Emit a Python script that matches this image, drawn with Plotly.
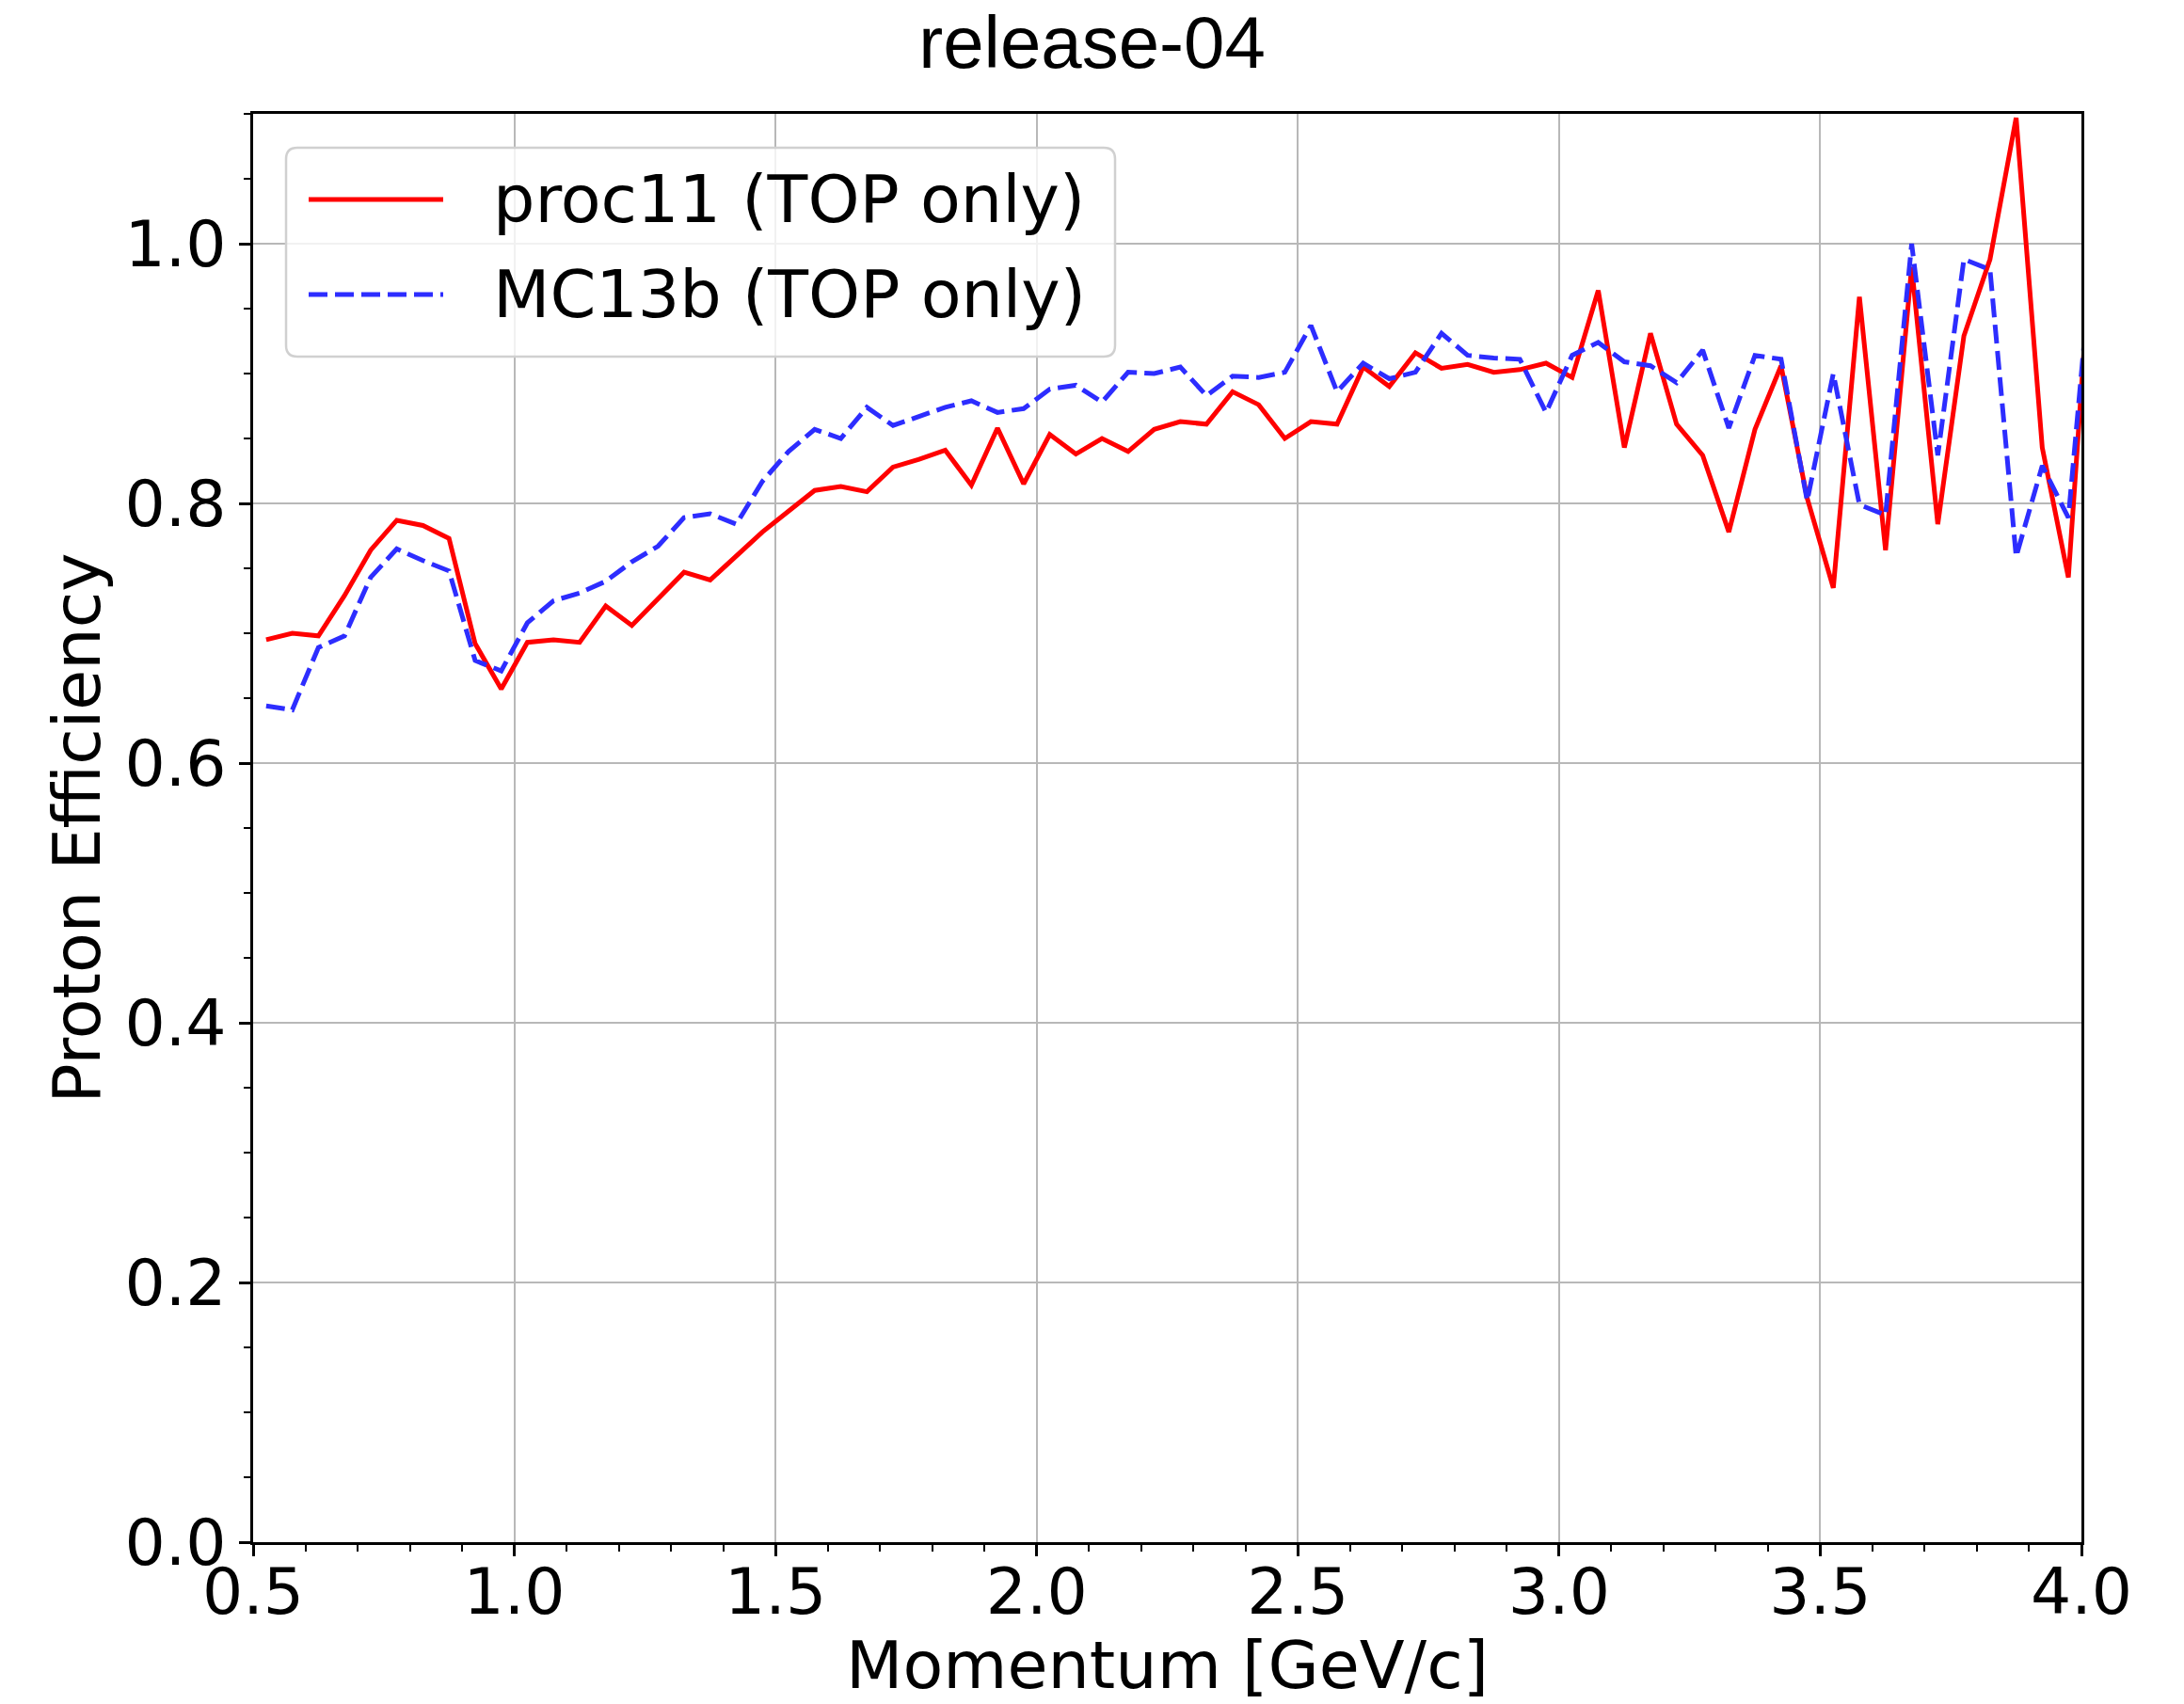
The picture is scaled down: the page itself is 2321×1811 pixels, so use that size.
import plotly.graph_objects as go

# ---------------- data ----------------
momentum = [0.525, 0.575, 0.625, 0.675, 0.725, 0.775, 0.825, 0.875, 0.925, 0.975,
            1.025, 1.075, 1.125, 1.175, 1.225, 1.275, 1.325, 1.375, 1.425, 1.475,
            1.525, 1.575, 1.625, 1.675, 1.725, 1.775, 1.825, 1.875, 1.925, 1.975,
            2.025, 2.075, 2.125, 2.175, 2.225, 2.275, 2.325, 2.375, 2.425, 2.475,
            2.525, 2.575, 2.625, 2.675, 2.725, 2.775, 2.825, 2.875, 2.925, 2.975,
            3.025, 3.075, 3.125, 3.175, 3.225, 3.275, 3.325, 3.375, 3.425, 3.475,
            3.525, 3.575, 3.625, 3.675, 3.725, 3.775, 3.825, 3.875, 3.925, 3.975,
            4.025]

proc11 = [0.695, 0.700, 0.698, 0.729, 0.764, 0.787, 0.783, 0.773, 0.692, 0.657,
          0.693, 0.695, 0.693, 0.721, 0.706, 0.726, 0.747, 0.741, 0.760, 0.778,
          0.794, 0.810, 0.813, 0.809, 0.828, 0.834, 0.841, 0.814, 0.858, 0.815,
          0.853, 0.838, 0.850, 0.840, 0.857, 0.863, 0.861, 0.886, 0.876, 0.850,
          0.863, 0.861, 0.905, 0.890, 0.916, 0.904, 0.907, 0.901, 0.903, 0.908,
          0.897, 0.964, 0.843, 0.931, 0.861, 0.837, 0.778, 0.857, 0.906, 0.804,
          0.735, 0.959, 0.764, 0.982, 0.784, 0.929, 0.988, 1.097, 0.843, 0.743,
          1.035]

mc13b = [0.644, 0.641, 0.689, 0.698, 0.743, 0.765, 0.756, 0.748, 0.679, 0.671,
         0.708, 0.725, 0.731, 0.740, 0.755, 0.767, 0.789, 0.792, 0.784, 0.817,
         0.840, 0.857, 0.850, 0.874, 0.860, 0.867, 0.874, 0.879, 0.870, 0.873,
         0.888, 0.891, 0.878, 0.901, 0.900, 0.905, 0.883, 0.898, 0.897, 0.901,
         0.937, 0.886, 0.908, 0.896, 0.901, 0.931, 0.914, 0.912, 0.911, 0.870,
         0.914, 0.924, 0.909, 0.906, 0.893, 0.918, 0.858, 0.914, 0.911, 0.802,
         0.900, 0.799, 0.791, 1.000, 0.837, 0.988, 0.980, 0.759, 0.829, 0.789,
         1.012]

series_names = ["proc11 (TOP only)", "MC13b (TOP only)"]
series_colors = ["rgb(255,0,0)", "rgb(45,45,255)"]
title_text = "release-04"
x_label = "Momentum [GeV/c]"
y_label = "Proton Efficiency"

# ---------------- figure ----------------
W, H = 2321, 1811
L, R, T, B = 269, 109, 121, 172
PW, PH = W - L - R, H - T - B
DASH = "20px,8px"
LW = 5

fig = go.Figure()
fig.add_trace(go.Scatter(x=momentum, y=proc11, mode="lines", name=series_names[0],
                         line=dict(color=series_colors[0], width=LW), showlegend=False))
fig.add_trace(go.Scatter(x=momentum, y=mc13b, mode="lines", name=series_names[1],
                         line=dict(color=series_colors[1], width=LW, dash=DASH),
                         showlegend=False))

tickfont = dict(family="DejaVu Sans", size=68, color="black")
common_axis = dict(showline=True, linecolor="black", linewidth=2.5, mirror=True,
                   ticks="outside", ticklen=12, tickwidth=2.5, tickcolor="black",
                   showgrid=True, gridcolor="#b8b8b8", gridwidth=2.2,
                   zeroline=False, tickfont=tickfont, tickformat=".1f")

fig.update_xaxes(range=[0.5, 4.0], dtick=0.5, tick0=0.5, ticklabelstandoff=-20,
                 minor=dict(dtick=0.1, ticks="outside", ticklen=7, tickwidth=2, tickcolor="black",
                            showgrid=False),
                 title=dict(text=x_label, font=dict(family="DejaVu Sans", size=70, color="black"),
                            standoff=40),
                 **common_axis)
fig.update_yaxes(range=[0, 1.1], dtick=0.2, tick0=0,
                 minor=dict(dtick=0.05, ticks="outside", ticklen=7, tickwidth=2, tickcolor="black",
                            showgrid=False),
                 title=dict(text=y_label, font=dict(family="DejaVu Sans", size=70, color="black"),
                            standoff=3),
                 **common_axis)

# ---------------- manual legend (matplotlib-style, long line samples) ----------------
def px_x(px):
    return (px - L) / PW

def px_y(py):
    return (H - B - py) / PH

bx0, bx1, by0, by1, rad = 304, 1185, 157, 379, 12
path = (f"M {px_x(bx0 + rad)},{px_y(by0)} L {px_x(bx1 - rad)},{px_y(by0)} "
        f"Q {px_x(bx1)},{px_y(by0)} {px_x(bx1)},{px_y(by0 + rad)} "
        f"L {px_x(bx1)},{px_y(by1 - rad)} "
        f"Q {px_x(bx1)},{px_y(by1)} {px_x(bx1 - rad)},{px_y(by1)} "
        f"L {px_x(bx0 + rad)},{px_y(by1)} "
        f"Q {px_x(bx0)},{px_y(by1)} {px_x(bx0)},{px_y(by1 - rad)} "
        f"L {px_x(bx0)},{px_y(by0 + rad)} "
        f"Q {px_x(bx0)},{px_y(by0)} {px_x(bx0 + rad)},{px_y(by0)} Z")
fig.add_shape(type="path", path=path, xref="paper", yref="paper",
              fillcolor="rgba(255,255,255,0.8)", line=dict(color="#d0d0d0", width=2.5),
              layer="above")

entry_y = [212, 313]
dashes = ["solid", DASH]
for name, color, ey, dsh in zip(series_names, series_colors, entry_y, dashes):
    fig.add_shape(type="line", xref="paper", yref="paper",
                  x0=px_x(328), x1=px_x(471), y0=px_y(ey), y1=px_y(ey),
                  line=dict(color=color, width=LW, dash=dsh), layer="above")
    fig.add_annotation(text=name, xref="paper", yref="paper", x=px_x(522), y=px_y(ey),
                       xanchor="left", yanchor="middle", showarrow=False,
                       font=dict(family="DejaVu Sans", size=70, color="black"))

fig.update_layout(
    width=W, height=H,
    margin=dict(l=L, r=R, t=T, b=B, autoexpand=False),
    paper_bgcolor="white", plot_bgcolor="white",
    title=dict(text=title_text, x=0.5, xref="container", xanchor="center",
               y=1 - 45 / H, yref="container", yanchor="middle",
               font=dict(family="Liberation Sans", size=78, color="black")),
    showlegend=False,
)

fig.write_html("out.html")
